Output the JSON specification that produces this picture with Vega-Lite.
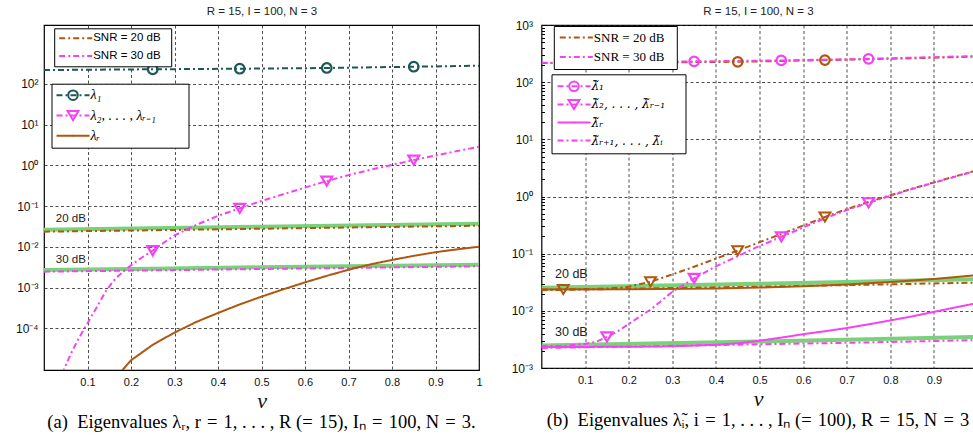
{
  "$schema": "https://vega.github.io/schema/vega-lite/v6.json",
  "background": "white",
  "autosize": {"type": "pad"},
  "padding": {"left": 14, "top": 4, "right": 0, "bottom": 0},
  "spacing": 62.5,
  "bounds": "flush",
  "resolve": {"scale": {"color": "independent", "strokeDash": "independent", "shape": "independent"}},
  "datasets": {
    "a_green": [{"x":0,"y":0.0264,"s":"20"},{"x":0.25,"y":0.0287,"s":"20"},{"x":0.5,"y":0.0312,"s":"20"},{"x":0.75,"y":0.034,"s":"20"},{"x":1,"y":0.037,"s":"20"},{"x":0,"y":0.00272,"s":"30"},{"x":0.25,"y":0.00293,"s":"30"},{"x":0.5,"y":0.00316,"s":"30"},{"x":0.75,"y":0.0034,"s":"30"},{"x":1,"y":0.00367,"s":"30"}],
    "a_snr": [{"x":0,"y":0.0236,"snr":"SNR = 20 dB"},{"x":0.25,"y":0.0256,"snr":"SNR = 20 dB"},{"x":0.5,"y":0.0279,"snr":"SNR = 20 dB"},{"x":0.75,"y":0.0304,"snr":"SNR = 20 dB"},{"x":1,"y":0.033,"snr":"SNR = 20 dB"},{"x":0,"y":0.00247,"snr":"SNR = 30 dB"},{"x":0.25,"y":0.00266,"snr":"SNR = 30 dB"},{"x":0.5,"y":0.00287,"snr":"SNR = 30 dB"},{"x":0.75,"y":0.0031,"snr":"SNR = 30 dB"},{"x":1,"y":0.00335,"snr":"SNR = 30 dB"}],
    "a_lam": [
      {"x":0,"y":216,"series":"l1"},{"x":0.25,"y":226,"series":"l1"},{"x":0.45,"y":233,"series":"l1"},{"x":0.65,"y":243,"series":"l1"},{"x":0.85,"y":261,"series":"l1"},{"x":1,"y":276,"series":"l1"},
      {"x":0.043,"y":0.0000075,"series":"l2"},{"x":0.046,"y":0.00001,"series":"l2"},{"x":0.055,"y":0.0000166,"series":"l2"},{"x":0.065,"y":0.0000282,"series":"l2"},{"x":0.08,"y":0.0000575,"series":"l2"},{"x":0.094,"y":0.000105,"series":"l2"},{"x":0.11,"y":0.000204,"series":"l2"},{"x":0.124,"y":0.000372,"series":"l2"},{"x":0.144,"y":0.00089,"series":"l2"},{"x":0.165,"y":0.0017,"series":"l2"},{"x":0.185,"y":0.00263,"series":"l2"},{"x":0.2,"y":0.00355,"series":"l2"},{"x":0.225,"y":0.0055,"series":"l2"},{"x":0.25,"y":0.0081,"series":"l2"},{"x":0.275,"y":0.0126,"series":"l2"},{"x":0.3,"y":0.0191,"series":"l2"},{"x":0.35,"y":0.0347,"series":"l2"},{"x":0.4,"y":0.0575,"series":"l2"},{"x":0.45,"y":0.0883,"series":"l2"},{"x":0.5,"y":0.1337,"series":"l2"},{"x":0.55,"y":0.195,"series":"l2"},{"x":0.6,"y":0.285,"series":"l2"},{"x":0.65,"y":0.412,"series":"l2"},{"x":0.7,"y":0.575,"series":"l2"},{"x":0.75,"y":0.776,"series":"l2"},{"x":0.8,"y":1.023,"series":"l2"},{"x":0.85,"y":1.349,"series":"l2"},{"x":0.9,"y":1.738,"series":"l2"},{"x":0.95,"y":2.239,"series":"l2"},{"x":1,"y":2.858,"series":"l2"},
      {"x":0.175,"y":0.0000075,"series":"lR"},{"x":0.182,"y":0.00001,"series":"lR"},{"x":0.2,"y":0.0000166,"series":"lR"},{"x":0.25,"y":0.0000398,"series":"lR"},{"x":0.3,"y":0.0000794,"series":"lR"},{"x":0.35,"y":0.0001445,"series":"lR"},{"x":0.4,"y":0.00024,"series":"lR"},{"x":0.45,"y":0.000389,"series":"lR"},{"x":0.5,"y":0.000603,"series":"lR"},{"x":0.55,"y":0.000912,"series":"lR"},{"x":0.6,"y":0.00135,"series":"lR"},{"x":0.65,"y":0.00195,"series":"lR"},{"x":0.7,"y":0.00275,"series":"lR"},{"x":0.75,"y":0.00372,"series":"lR"},{"x":0.8,"y":0.00479,"series":"lR"},{"x":0.85,"y":0.00603,"series":"lR"},{"x":0.9,"y":0.00741,"series":"lR"},{"x":0.95,"y":0.00871,"series":"lR"},{"x":1,"y":0.0101,"series":"lR"}
    ],
    "a_mk": [{"x":0.25,"y":226,"series":"l1"},{"x":0.45,"y":233,"series":"l1"},{"x":0.65,"y":243,"series":"l1"},{"x":0.85,"y":261,"series":"l1"},{"x":0.25,"y":0.0081,"series":"l2"},{"x":0.45,"y":0.0883,"series":"l2"},{"x":0.65,"y":0.412,"series":"l2"},{"x":0.85,"y":1.349,"series":"l2"}],
    "a_txt": [{"x":0.027,"y":0.0474,"label":"20 dB"},{"x":0.027,"y":0.0048,"label":"30 dB"}],
    "b_green": [{"x":0,"y":0.0253,"s":"20"},{"x":0.25,"y":0.0275,"s":"20"},{"x":0.5,"y":0.0298,"s":"20"},{"x":0.75,"y":0.0325,"s":"20"},{"x":1,"y":0.0357,"s":"20"},{"x":0,"y":0.00247,"s":"30"},{"x":0.25,"y":0.00268,"s":"30"},{"x":0.5,"y":0.0029,"s":"30"},{"x":0.75,"y":0.00318,"s":"30"},{"x":1,"y":0.00349,"s":"30"}],
    "b_20": [
      {"x":0,"y":216,"series":"t1","snr":"SNR = 20 dB"},{"x":0.25,"y":222,"series":"t1","snr":"SNR = 20 dB"},{"x":0.45,"y":227,"series":"t1","snr":"SNR = 20 dB"},{"x":0.65,"y":243,"series":"t1","snr":"SNR = 20 dB"},{"x":0.85,"y":262,"series":"t1","snr":"SNR = 20 dB"},{"x":1,"y":280,"series":"t1","snr":"SNR = 20 dB"},
      {"x":0,"y":0.0237,"series":"t2","snr":"SNR = 20 dB"},{"x":0.05,"y":0.0237,"series":"t2","snr":"SNR = 20 dB"},{"x":0.1,"y":0.024,"series":"t2","snr":"SNR = 20 dB"},{"x":0.15,"y":0.0245,"series":"t2","snr":"SNR = 20 dB"},{"x":0.2,"y":0.0265,"series":"t2","snr":"SNR = 20 dB"},{"x":0.25,"y":0.0322,"series":"t2","snr":"SNR = 20 dB"},{"x":0.3,"y":0.0433,"series":"t2","snr":"SNR = 20 dB"},{"x":0.35,"y":0.0591,"series":"t2","snr":"SNR = 20 dB"},{"x":0.4,"y":0.082,"series":"t2","snr":"SNR = 20 dB"},{"x":0.45,"y":0.113,"series":"t2","snr":"SNR = 20 dB"},{"x":0.5,"y":0.159,"series":"t2","snr":"SNR = 20 dB"},{"x":0.55,"y":0.22,"series":"t2","snr":"SNR = 20 dB"},{"x":0.6,"y":0.31,"series":"t2","snr":"SNR = 20 dB"},{"x":0.65,"y":0.438,"series":"t2","snr":"SNR = 20 dB"},{"x":0.7,"y":0.601,"series":"t2","snr":"SNR = 20 dB"},{"x":0.75,"y":0.802,"series":"t2","snr":"SNR = 20 dB"},{"x":0.8,"y":1.05,"series":"t2","snr":"SNR = 20 dB"},{"x":0.85,"y":1.376,"series":"t2","snr":"SNR = 20 dB"},{"x":0.9,"y":1.765,"series":"t2","snr":"SNR = 20 dB"},{"x":0.95,"y":2.267,"series":"t2","snr":"SNR = 20 dB"},{"x":1,"y":2.886,"series":"t2","snr":"SNR = 20 dB"},
      {"x":0,"y":0.023,"series":"tN","snr":"SNR = 20 dB"},{"x":0.25,"y":0.0247,"series":"tN","snr":"SNR = 20 dB"},{"x":0.5,"y":0.0265,"series":"tN","snr":"SNR = 20 dB"},{"x":0.75,"y":0.0286,"series":"tN","snr":"SNR = 20 dB"},{"x":1,"y":0.0312,"series":"tN","snr":"SNR = 20 dB"}
    ],
    "b_20R": [{"x":0,"y":0.0237},{"x":0.2,"y":0.0238},{"x":0.4,"y":0.0245},{"x":0.5,"y":0.0255},{"x":0.6,"y":0.027},{"x":0.7,"y":0.029},{"x":0.8,"y":0.0318},{"x":0.9,"y":0.036},{"x":1,"y":0.042}],
    "b_30": [
      {"x":0,"y":218,"series":"t1"},{"x":0.15,"y":224,"series":"t1"},{"x":0.35,"y":231,"series":"t1"},{"x":0.55,"y":240,"series":"t1"},{"x":0.75,"y":256,"series":"t1"},{"x":1,"y":287,"series":"t1"},
      {"x":0,"y":0.00242,"series":"t2"},{"x":0.05,"y":0.00242,"series":"t2"},{"x":0.1,"y":0.00264,"series":"t2"},{"x":0.125,"y":0.00287,"series":"t2"},{"x":0.15,"y":0.0035,"series":"t2"},{"x":0.175,"y":0.0044,"series":"t2"},{"x":0.2,"y":0.0059,"series":"t2"},{"x":0.225,"y":0.0079,"series":"t2"},{"x":0.25,"y":0.0105,"series":"t2"},{"x":0.275,"y":0.015,"series":"t2"},{"x":0.3,"y":0.0215,"series":"t2"},{"x":0.35,"y":0.0371,"series":"t2"},{"x":0.4,"y":0.06,"series":"t2"},{"x":0.45,"y":0.0907,"series":"t2"},{"x":0.5,"y":0.1361,"series":"t2"},{"x":0.55,"y":0.1974,"series":"t2"},{"x":0.6,"y":0.2874,"series":"t2"},{"x":0.65,"y":0.4144,"series":"t2"},{"x":0.7,"y":0.5774,"series":"t2"},{"x":0.75,"y":0.7784,"series":"t2"},{"x":0.8,"y":1.025,"series":"t2"},{"x":0.85,"y":1.351,"series":"t2"},{"x":0.9,"y":1.74,"series":"t2"},{"x":0.95,"y":2.241,"series":"t2"},{"x":1,"y":2.86,"series":"t2"},
      {"x":0,"y":0.00233,"series":"tR"},{"x":0.2,"y":0.00235,"series":"tR"},{"x":0.3,"y":0.0024,"series":"tR"},{"x":0.4,"y":0.00255,"series":"tR"},{"x":0.45,"y":0.0027,"series":"tR"},{"x":0.5,"y":0.003,"series":"tR"},{"x":0.55,"y":0.0034,"series":"tR"},{"x":0.6,"y":0.0039,"series":"tR"},{"x":0.65,"y":0.0044,"series":"tR"},{"x":0.7,"y":0.005,"series":"tR"},{"x":0.75,"y":0.0058,"series":"tR"},{"x":0.8,"y":0.0068,"series":"tR"},{"x":0.85,"y":0.008,"series":"tR"},{"x":0.9,"y":0.0096,"series":"tR"},{"x":0.95,"y":0.0115,"series":"tR"},{"x":1,"y":0.0137,"series":"tR"},
      {"x":0,"y":0.00224,"series":"tN"},{"x":0.25,"y":0.0024,"series":"tN"},{"x":0.5,"y":0.0026,"series":"tN"},{"x":0.75,"y":0.0028,"series":"tN"},{"x":1,"y":0.00308,"series":"tN"}
    ],
    "b_m20c": [{"x":0.05,"y":217},{"x":0.25,"y":222},{"x":0.45,"y":227},{"x":0.65,"y":243}],
    "b_m20t": [{"x":0.05,"y":0.0237},{"x":0.25,"y":0.0322},{"x":0.45,"y":0.113},{"x":0.65,"y":0.438}],
    "b_m30": [{"x":0.15,"y":224,"series":"t1"},{"x":0.35,"y":231,"series":"t1"},{"x":0.55,"y":240,"series":"t1"},{"x":0.75,"y":256,"series":"t1"},{"x":0.15,"y":0.0035,"series":"t2"},{"x":0.35,"y":0.0371,"series":"t2"},{"x":0.55,"y":0.1974,"series":"t2"},{"x":0.75,"y":0.7784,"series":"t2"}],
    "b_txt": [{"x":0.031,"y":0.0446,"label":"20 dB"},{"x":0.031,"y":0.00426,"label":"30 dB"}]
  },
  "hconcat": [
    {
      "width": 435,
      "height": 345,
      "title": {"text": "(a)\u2002Eigenvalues λ\u1d63, r\u2004=\u20041, . . . , R (=\u200415), I\u2099\u2004=\u2004100, N\u2004=\u20043.", "orient": "bottom", "anchor": "middle", "frame": "group", "font": "Liberation Serif", "fontSize": 18.5, "fontWeight": "normal", "color": "black", "offset": 2},
      "resolve": {"scale": {"color": "independent", "strokeDash": "independent", "shape": "independent"}, "axis": {"x": "independent"}},
      "layer": [
        {
          "data": {"name": "a_green"},
          "mark": {"type": "line", "color": "#79d279", "strokeWidth": 4, "clip": true},
          "encoding": {
            "x": {"field": "x", "type": "quantitative", "scale": {"domain": [0, 1], "nice": false, "zero": false},
                  "axis": {"orient": "top", "title": "R = 15, I = 100, N = 3", "labels": false, "ticks": false, "domain": false, "grid": false, "titleFont": "Liberation Sans", "titleFontSize": 11.5, "titleFontWeight": "normal", "titlePadding": 9, "titleColor": "#222"}},
            "y": {"field": "y", "type": "quantitative", "scale": {"type": "log", "domain": [0.0000096, 2750], "nice": false},
                  "axis": {"title": null, "values": [0.0001, 0.001, 0.01, 0.1, 1, 10, 100], "labelFontSize": 12, "labelPadding": 6,
                           "labelExpr": "'10' + replace(replace(replace(replace(replace(replace('' + round(log(datum.value)/LN10), '-', '\u207b'), '0', '\u2070'), '1', '\u00b9'), '2', '\u00b2'), '3', '\u00b3'), '4', '\u2074')"}},
            "detail": {"field": "s", "type": "nominal"}
          }
        },
        {
          "data": {"name": "a_snr"},
          "mark": {"type": "line", "strokeWidth": 2, "clip": true},
          "encoding": {
            "x": {"field": "x", "type": "quantitative",
                  "axis": {"orient": "bottom", "values": [0.1,0.2,0.3,0.4,0.5,0.6,0.7,0.8,0.9,1], "format": "~g", "grid": true, "labelFontSize": 11, "labelPadding": 6, "title": "ν", "titleFont": "Liberation Serif", "titleFontStyle": "italic", "titleFontSize": 22, "titlePadding": 3}},
            "y": {"field": "y", "type": "quantitative"},
            "color": {"field": "snr", "type": "nominal", "scale": {"domain": ["SNR = 20 dB", "SNR = 30 dB"], "range": ["#b0560f", "#f542f5"]},
                      "legend": {"orient": "none", "legendX": 10.2, "legendY": 3.3, "title": null, "direction": "vertical", "fillColor": "white", "strokeColor": "black", "padding": 4, "rowPadding": 5.6, "clipHeight": 12, "labelFont": "Liberation Sans", "labelFontSize": 11.5, "labelColor": "black", "labelOffset": 0, "symbolSize": 1089, "symbolStrokeWidth": 2,
                                 "labelExpr": "datum.label + '\u00a0\u00a0\u200b'"}},
            "strokeDash": {"field": "snr", "type": "nominal", "scale": {"domain": ["SNR = 20 dB", "SNR = 30 dB"], "range": [[6, 3, 2, 3], [6, 3, 2, 3]]}}
          }
        },
        {
          "data": {"name": "a_lam"},
          "mark": {"type": "line", "strokeWidth": 2, "clip": true},
          "encoding": {
            "x": {"field": "x", "type": "quantitative", "axis": null},
            "y": {"field": "y", "type": "quantitative"},
            "color": {"field": "series", "type": "nominal", "scale": {"domain": ["l1", "l2", "lR"], "range": ["#1d5757", "#f542f5", "#b0560f"]},
                      "legend": {"orient": "none", "legendX": 7.5, "legendY": 58.7, "title": null, "direction": "vertical", "fillColor": "white", "strokeColor": "black", "padding": 4, "rowPadding": 5.3, "clipHeight": 15, "labelFont": "Liberation Serif", "labelFontStyle": "italic", "labelFontSize": 14, "labelColor": "black", "labelOffset": 0, "symbolSize": 1089, "symbolStrokeWidth": 2,
                                 "labelExpr": "datum.value === 'l1' ? 'λ\u2081' : datum.value === 'l2' ? 'λ\u2082, . . . , λ\u1d63\u208b\u2081\u00a0\u00a0\u00a0\u00a0\u00a0\u00a0\u00a0\u00a0\u200b' : 'λ\u1d63'"}},
            "strokeDash": {"field": "series", "type": "nominal", "scale": {"domain": ["l1", "l2", "lR"], "range": [[6, 3, 2, 3], [6, 3, 2, 3], [1, 0]]}}
          }
        },
        {
          "data": {"name": "a_mk"},
          "mark": {"type": "point", "filled": false, "size": 1089, "strokeWidth": 2.2, "opacity": 1},
          "encoding": {
            "x": {"field": "x", "type": "quantitative", "axis": null},
            "y": {"field": "y", "type": "quantitative"},
            "color": {"field": "series", "type": "nominal", "scale": {"domain": ["l1", "l2", "lR"], "range": ["#1d5757", "#f542f5", "#b0560f"]},
                      "legend": {"orient": "none", "legendX": 7.5, "legendY": 58.7, "title": null, "direction": "vertical", "padding": 4, "rowPadding": 5.3, "clipHeight": 15, "labelFontSize": 14, "labelOffset": 0, "symbolSize": 1089, "symbolStrokeWidth": 2, "symbolOpacity": 1,
                                 "labelExpr": "''"}},
            "shape": {"field": "series", "type": "nominal", "scale": {"domain": ["l1", "l2", "lR"], "range": ["M0.29,0A0.29,0.29,0,1,1,-0.29,0A0.29,0.29,0,1,1,0.29,0Z", "M-0.33,-0.27L0.33,-0.27L0,0.28Z", "M-0.02,0H0.02"]}}
          }
        },
        {
          "data": {"name": "a_txt"},
          "mark": {"type": "text", "align": "left", "baseline": "middle", "font": "Liberation Sans", "fontSize": 11.5, "color": "#222"},
          "encoding": {"x": {"field": "x", "type": "quantitative", "axis": null}, "y": {"field": "y", "type": "quantitative"}, "text": {"field": "label", "type": "nominal"}}
        }
      ]
    },
    {
      "width": 433,
      "height": 343,
      "title": {"text": "(b)\u2002Eigenvalues λ\u0303\u1d62, i\u2004=\u20041, . . . , I\u2099 (=\u2004100), R\u2004=\u200415, N\u2004=\u20043", "orient": "bottom", "anchor": "middle", "frame": "group", "font": "Liberation Serif", "fontSize": 18.5, "fontWeight": "normal", "color": "black", "offset": 2},
      "resolve": {"scale": {"color": "independent", "strokeDash": "independent", "shape": "independent"}, "axis": {"x": "independent"}},
      "layer": [
        {
          "data": {"name": "b_green"},
          "mark": {"type": "line", "color": "#79d279", "strokeWidth": 4, "clip": true},
          "encoding": {
            "x": {"field": "x", "type": "quantitative", "scale": {"domain": [0, 0.993], "nice": false, "zero": false},
                  "axis": {"orient": "top", "title": "R = 15, I = 100, N = 3", "labels": false, "ticks": false, "domain": false, "grid": false, "titleFont": "Liberation Sans", "titleFontSize": 11.5, "titleFontWeight": "normal", "titlePadding": 9, "titleColor": "#222"}},
            "y": {"field": "y", "type": "quantitative", "scale": {"type": "log", "domain": [0.001, 1000], "nice": false},
                  "axis": {"title": null, "values": [0.001,0.002,0.003,0.004,0.005,0.006,0.007,0.008,0.009,0.01,0.02,0.03,0.04,0.05,0.06,0.07,0.08,0.09,0.1,0.2,0.3,0.4,0.5,0.6,0.7,0.8,0.9,1,2,3,4,5,6,7,8,9,10,20,30,40,50,60,70,80,90,100,200,300,400,500,600,700,800,900,1000],
                           "offset": -3, "labelFontSize": 12, "labelPadding": 9, "ticks": true, "tickSize": 3, "tickColor": "black", "tickWidth": 1,
                           "gridOpacity": {"condition": {"test": "abs(log(datum.value)/LN10 - round(log(datum.value)/LN10)) < 0.01", "value": 1}, "value": 0},
                           "labelExpr": "abs(log(datum.value)/LN10 - round(log(datum.value)/LN10)) < 0.01 ? '10' + replace(replace(replace(replace(replace('' + round(log(datum.value)/LN10), '-', '\u207b'), '0', '\u2070'), '1', '\u00b9'), '2', '\u00b2'), '3', '\u00b3') : ''"}},
            "detail": {"field": "s", "type": "nominal"}
          }
        },
        {
          "data": {"name": "b_20R"},
          "mark": {"type": "line", "strokeWidth": 2, "color": "#b0560f", "clip": true},
          "encoding": {
            "x": {"field": "x", "type": "quantitative", "axis": null},
            "y": {"field": "y", "type": "quantitative"}
          }
        },
        {
          "data": {"name": "b_20"},
          "mark": {"type": "line", "strokeWidth": 2, "clip": true},
          "encoding": {
            "x": {"field": "x", "type": "quantitative",
                  "axis": {"orient": "bottom", "values": [0.1,0.2,0.3,0.4,0.5,0.6,0.7,0.8,0.9], "format": "~g", "grid": true, "labelFontSize": 11, "labelPadding": 6, "title": "ν", "titleFont": "Liberation Serif", "titleFontStyle": "italic", "titleFontSize": 22, "titlePadding": 3}},
            "y": {"field": "y", "type": "quantitative"},
            "detail": {"field": "series", "type": "nominal"},
            "color": {"field": "snr", "type": "nominal", "scale": {"domain": ["SNR = 20 dB", "SNR = 30 dB"], "range": ["#b0560f", "#f542f5"]},
                      "legend": {"orient": "none", "legendX": 12.3, "legendY": 1, "title": null, "direction": "vertical", "fillColor": "white", "strokeColor": "black", "padding": 5, "rowPadding": 5.4, "clipHeight": 13, "labelFont": "Liberation Serif", "labelFontSize": 13, "labelColor": "black", "labelOffset": 0, "symbolSize": 1089, "symbolStrokeWidth": 2,
                                 "labelExpr": "datum.label + '\u00a0\u00a0\u200b'"}},
            "strokeDash": {"field": "snr", "type": "nominal", "scale": {"domain": ["SNR = 20 dB", "SNR = 30 dB"], "range": [[6, 3, 2, 3], [6, 3, 2, 3]]}}
          }
        },
        {
          "data": {"name": "b_30"},
          "mark": {"type": "line", "strokeWidth": 2, "clip": true},
          "encoding": {
            "x": {"field": "x", "type": "quantitative", "axis": null},
            "y": {"field": "y", "type": "quantitative"},
            "color": {"field": "series", "type": "nominal", "scale": {"domain": ["t1", "t2", "tR", "tN"], "range": ["#f542f5", "#f542f5", "#f542f5", "#f542f5"]},
                      "legend": {"orient": "none", "legendX": 10, "legendY": 49.3, "title": null, "direction": "vertical", "fillColor": "white", "strokeColor": "black", "padding": 5, "rowPadding": 4.1, "clipHeight": 14, "labelFont": "DejaVu Serif", "labelFontStyle": "italic", "labelFontSize": 12, "labelColor": "black", "labelOffset": 0, "symbolSize": 1089, "symbolStrokeWidth": 2,
                                 "labelExpr": "datum.value === 't1' ? 'λ\u0303\u2081' : datum.value === 't2' ? 'λ\u0303\u2082, . . . , λ\u0303\u1d63\u208b\u2081\u00a0\u00a0\u00a0\u00a0\u200b' : datum.value === 'tR' ? 'λ\u0303\u1d63' : 'λ\u0303\u1d63\u208a\u2081, . . . , λ\u0303\u1d62'"}},
            "strokeDash": {"field": "series", "type": "nominal", "scale": {"domain": ["t1", "t2", "tR", "tN"], "range": [[6, 3, 2, 3], [6, 3, 2, 3], [1, 0], [6, 3, 2, 3]]}}
          }
        },
        {
          "data": {"name": "b_m20c"},
          "mark": {"type": "point", "shape": "M0.29,0A0.29,0.29,0,1,1,-0.29,0A0.29,0.29,0,1,1,0.29,0Z", "filled": false, "size": 1089, "strokeWidth": 2.2, "color": "#b0560f", "opacity": 1},
          "encoding": {"x": {"field": "x", "type": "quantitative", "axis": null}, "y": {"field": "y", "type": "quantitative"}}
        },
        {
          "data": {"name": "b_m20t"},
          "mark": {"type": "point", "shape": "M-0.33,-0.27L0.33,-0.27L0,0.28Z", "filled": false, "size": 1089, "strokeWidth": 2, "color": "#b0560f", "opacity": 1},
          "encoding": {"x": {"field": "x", "type": "quantitative", "axis": null}, "y": {"field": "y", "type": "quantitative"}}
        },
        {
          "data": {"name": "b_m30"},
          "mark": {"type": "point", "filled": false, "size": 1089, "strokeWidth": 2.2, "opacity": 1},
          "encoding": {
            "x": {"field": "x", "type": "quantitative", "axis": null},
            "y": {"field": "y", "type": "quantitative"},
            "color": {"field": "series", "type": "nominal", "scale": {"domain": ["t1", "t2", "tR", "tN"], "range": ["#f542f5", "#f542f5", "#f542f5", "#f542f5"]},
                      "legend": {"orient": "none", "legendX": 10, "legendY": 49.3, "title": null, "direction": "vertical", "padding": 5, "rowPadding": 4.1, "clipHeight": 14, "labelFontSize": 12, "labelOffset": 0, "symbolSize": 1089, "symbolStrokeWidth": 2, "symbolOpacity": 1,
                                 "labelExpr": "''"}},
            "shape": {"field": "series", "type": "nominal", "scale": {"domain": ["t1", "t2", "tR", "tN"], "range": ["M0.29,0A0.29,0.29,0,1,1,-0.29,0A0.29,0.29,0,1,1,0.29,0Z", "M-0.33,-0.27L0.33,-0.27L0,0.28Z", "M-0.02,0H0.02", "M-0.02,0H0.02"]}}
          }
        },
        {
          "data": {"name": "b_txt"},
          "mark": {"type": "text", "align": "left", "baseline": "middle", "font": "Liberation Sans", "fontSize": 12.5, "color": "#222"},
          "encoding": {"x": {"field": "x", "type": "quantitative", "axis": null}, "y": {"field": "y", "type": "quantitative"}, "text": {"field": "label", "type": "nominal"}}
        }
      ]
    }
  ],
  "config": {
    "view": {"stroke": "black", "strokeWidth": 1.2},
    "axis": {"labelFlush": false, "labelOverlap": false, "ticks": false, "domain": false, "gridColor": "#222", "gridDash": [3, 2.5], "gridWidth": 0.8, "gridOpacity": 1, "labelColor": "#111", "labelFont": "Liberation Sans", "titleColor": "#111", "titleFontWeight": "normal"},
    "legend": {"labelColor": "#111"},
    "title": {"color": "#111", "fontWeight": "normal"}
  }
}
